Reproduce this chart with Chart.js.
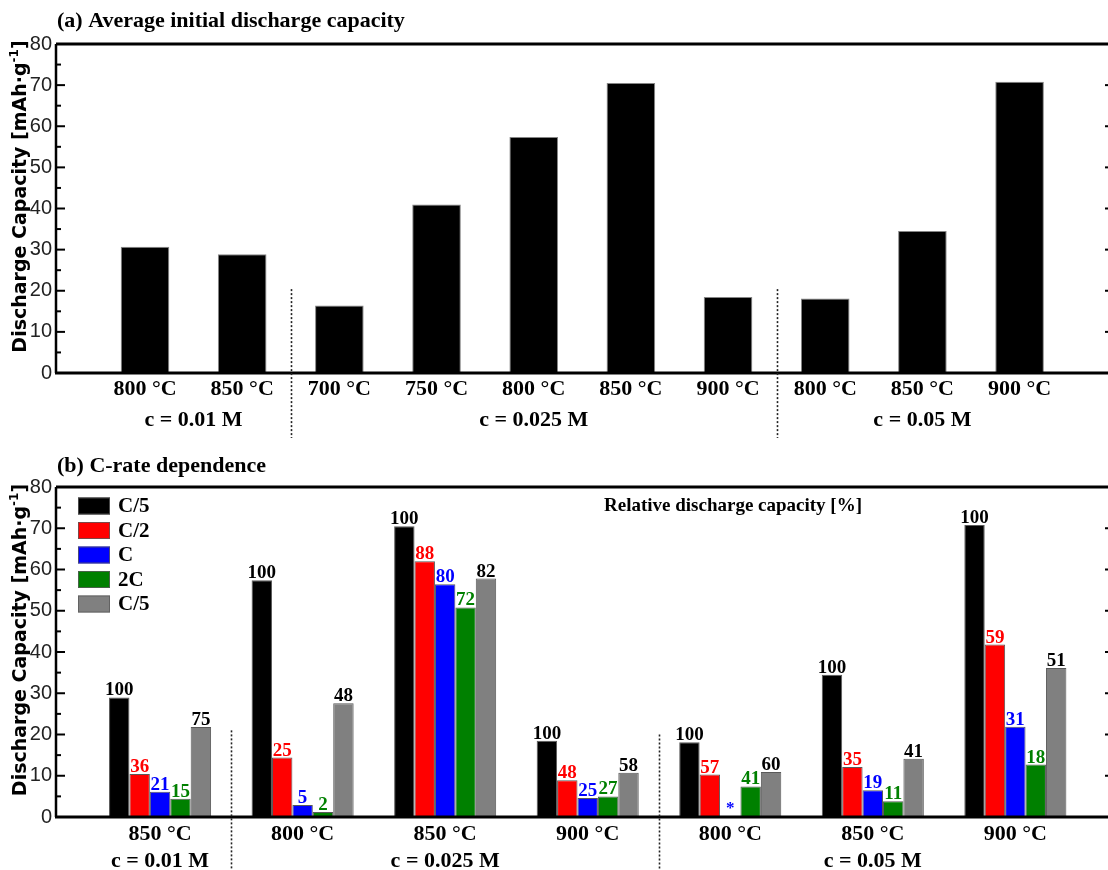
<!DOCTYPE html>
<html>
<head>
<meta charset="utf-8">
<script src="https://cdn.jsdelivr.net/npm/chart.js@4.4.0/dist/chart.umd.min.js"></script>
<style>
  html, body { margin: 0; padding: 0; background: #fff; width: 1108px; height: 870px; overflow: hidden; }
  canvas { position: absolute; left: 0; }
  #chartA { top: 0; }
  #chartB { top: 445px; }
</style>
</head>
<body>
<canvas id="chartA" width="1108" height="445"></canvas>
<canvas id="chartB" width="1108" height="425"></canvas>
<script>
// ---------- Panel (a): average initial discharge capacity ----------
const tempsA = ['800 °C', '850 °C', '700 °C', '750 °C', '800 °C', '850 °C', '900 °C', '800 °C', '850 °C', '900 °C'];
const capacityA = [30.7, 28.9, 16.4, 41.0, 57.4, 70.5, 18.5, 18.1, 34.5, 70.8];
const concLabels = ['c = 0.01 M', 'c = 0.025 M', 'c = 0.05 M'];
const concSpanA = [[1, 2], [3, 7], [8, 10]];
const separatorsA = [2.5, 7.5];

// ---------- Panel (b): C-rate dependence ----------
const tempsB = ['850 °C', '800 °C', '850 °C', '900 °C', '800 °C', '850 °C', '900 °C'];
const concSpanB = [[1, 1], [2, 4], [5, 7]];
const separatorsB = [1.5, 4.5];
const rateNames = ['C/5', 'C/2', 'C', '2C', 'C/5'];
const rateColors = ['#000000', '#ff0000', '#0000ff', '#008000', '#808080'];
const labelColors = ['#000000', '#ff0000', '#0000ff', '#008000', '#000000'];
const capC5 = [29.0, 57.4, 70.5, 18.5, 18.1, 34.5, 70.8];
const capC2 = [10.4, 14.4, 62.0, 8.9, 10.3, 12.1, 41.8];
const capC1 = [6.1, 2.9, 56.4, 4.6, null, 6.5, 21.9];
const cap2C = [4.4, 1.2, 50.8, 5.0, 7.4, 3.8, 12.7];
const capC5end = [21.8, 27.6, 57.8, 10.7, 10.9, 14.1, 36.1];
const relC5 = [100, 100, 100, 100, 100, 100, 100];
const relC2 = [36, 25, 88, 48, 57, 35, 59];
const relC1 = [21, 5, 80, 25, null, 19, 31];
const rel2C = [15, 2, 72, 27, 41, 11, 18];
const relC5end = [75, 48, 82, 58, 60, 41, 51];

const capacityB = [capC5, capC2, capC1, cap2C, capC5end];
const relativeB = [relC5, relC2, relC1, rel2C, relC5end];

const SERIF = '"Liberation Serif", "Times New Roman", serif';
const SANS = '"Liberation Sans", Arial, sans-serif';
const SANS_TITLE = '"DejaVu Sans", Verdana, sans-serif';

function line(ctx, x1, y1, x2, y2) {
  ctx.beginPath(); ctx.moveTo(x1, y1); ctx.lineTo(x2, y2); ctx.stroke();
}

// Rotated y-axis title with a raised "-1"
function drawYTitle(ctx, cx, cy) {
  const main = 'Discharge Capacity [mAh·g';
  const sup = '-1';
  const tail = ']';
  ctx.save();
  ctx.translate(cx, cy);
  ctx.rotate(-Math.PI / 2);
  ctx.fillStyle = '#000';
  ctx.textBaseline = 'middle';
  ctx.textAlign = 'left';
  const fMain = 'bold 19px ' + SANS_TITLE;
  const fSup = 'bold 12px ' + SANS_TITLE;
  ctx.font = fMain; const w1 = ctx.measureText(main).width; const w3 = ctx.measureText(tail).width;
  ctx.font = fSup; const w2 = ctx.measureText(sup).width;
  let x = -(w1 + w2 + w3) / 2;
  ctx.font = fMain; ctx.fillText(main, x, 0); x += w1;
  ctx.font = fSup; ctx.fillText(sup, x, -6); x += w2;
  ctx.font = fMain; ctx.fillText(tail, x, 0);
  ctx.restore();
}

// Frame, inward ticks, category labels, group labels and separators
function framePlugin(cfg) {
  return {
    id: 'frame' + cfg.name,
    afterDraw(chart) {
      const { ctx, chartArea: a, scales: { x, y } } = chart;
      ctx.save();
      ctx.strokeStyle = '#000';
      // axes and top border
      ctx.lineWidth = 3;
      line(ctx, a.left, a.top, a.right, a.top);
      line(ctx, a.left - 1, a.bottom, a.right, a.bottom);
      ctx.lineWidth = 2.5;
      line(ctx, a.left, a.top, a.left, a.bottom);
      // inward ticks on the value axis
      ctx.lineWidth = 2;
      for (let v = 5; v < 80; v += 5) {
        const py = y.getPixelForValue(v);
        line(ctx, a.left, py, a.left + (v % 10 === 0 ? 9 : 5), py);
      }
      // stubs of the right-hand axis ticks
      for (let v = 10; v < 80; v += 10) {
        const py = y.getPixelForValue(v);
        line(ctx, a.right - 3, py, a.right, py);
      }
      // dotted separators between concentration groups
      ctx.lineWidth = 1.6;
      ctx.strokeStyle = '#222';
      ctx.setLineDash([2, 2]);
      cfg.separators.forEach((s, i) => {
        const px = Math.round(x.getPixelForValue(s)) + 0.5;
        line(ctx, px, y.getPixelForValue(cfg.sepTop[i]), px, cfg.sepBottom);
      });
      ctx.setLineDash([]);
      // temperature labels
      ctx.fillStyle = '#000';
      ctx.textAlign = 'center';
      ctx.textBaseline = 'alphabetic';
      ctx.font = 'bold 22px ' + SERIF;
      cfg.temps.forEach((t, i) => {
        ctx.fillText(t, x.getPixelForValue(i + 1), a.bottom + cfg.tempOffset);
      });
      // concentration labels
      cfg.spans.forEach((sp, i) => {
        const cx = (x.getPixelForValue(sp[0]) + x.getPixelForValue(sp[1])) / 2;
        ctx.fillText(concLabels[i], cx, cfg.concBaseline);
      });
      // panel title
      ctx.textAlign = 'left';
      ctx.fillText(cfg.title, 57, a.top - cfg.titleGap);
      ctx.restore();
      drawYTitle(ctx, 21, (a.top + a.bottom) / 2 - 12);
    }
  };
}

// Relative capacity labels above each bar, legend and annotation for panel (b)
const labelPlugin = {
  id: 'relLabels',
  afterDatasetsDraw(chart) {
    const { ctx, scales: { x, y } } = chart;
    ctx.save();
    ctx.textAlign = 'center';
    ctx.textBaseline = 'alphabetic';
    chart.data.datasets.forEach((ds, di) => {
      const meta = chart.getDatasetMeta(di);
      meta.data.forEach((bar, j) => {
        const rel = relativeB[di][j];
        ctx.fillStyle = labelColors[di];
        if (rel === null) {
          // missing measurement marked with an asterisk
          const px = Number.isFinite(bar.x) ? bar.x : x.getPixelForValue(j + 1);
          ctx.font = 'bold 17px ' + SERIF;
          ctx.fillText('*', px, y.getPixelForValue(0) - 4);
          return;
        }
        ctx.font = 'bold 19px ' + SERIF;
        ctx.fillText(String(rel), bar.x, bar.y - 2);
      });
    });
    // legend
    const sx = 78, sw = 32, sh = 17, row0 = 61, step = 24.5;
    ctx.textAlign = 'left';
    ctx.textBaseline = 'middle';
    ctx.font = 'bold 21px ' + SERIF;
    rateNames.forEach((n, i) => {
      const cy = row0 + i * step;
      ctx.fillStyle = rateColors[i];
      ctx.fillRect(sx, cy - sh / 2, sw, sh);
      ctx.strokeStyle = 'rgba(90,90,90,0.8)';
      ctx.lineWidth = 1;
      ctx.strokeRect(sx + 0.5, cy - sh / 2 + 0.5, sw - 1, sh - 1);
      ctx.fillStyle = '#000';
      ctx.fillText(n, 118, cy + 1);
    });
    // annotation
    ctx.textAlign = 'center';
    ctx.textBaseline = 'alphabetic';
    ctx.font = 'bold 19px ' + SERIF;
    ctx.fillText('Relative discharge capacity [%]', 733, 66);
    ctx.restore();
  }
};

function yScale(width) {
  return {
    min: 0, max: 80,
    grid: { display: false, drawTicks: false },
    border: { display: false },
    ticks: { stepSize: 10, padding: 4, color: '#222', font: { family: SANS, size: 20 } },
    afterFit: s => { s.width = width; }
  };
}

// Linear category axis: one tick per category position, so bar widths follow the category spacing
function xScale(min, max, height, count) {
  return {
    type: 'linear', min, max,
    offset: false,
    grid: { display: false, offset: false },
    border: { display: false },
    ticks: { display: false },
    afterBuildTicks: s => { s.ticks = Array.from({ length: count }, (_, i) => ({ value: i + 1 })); },
    afterFit: s => { s.height = height; }
  };
}

const common = {
  responsive: false,
  animation: false,
  devicePixelRatio: 1,
  plugins: { legend: { display: false }, tooltip: { enabled: false } }
};

new Chart(document.getElementById('chartA'), {
  type: 'bar',
  data: {
    datasets: [{
      label: 'C/5',
      data: capacityA.map((v, i) => ({ x: i + 1, y: v })),
      backgroundColor: '#000',
      borderColor: 'rgba(120,120,120,0.9)',
      borderWidth: 1,
      categoryPercentage: 0.5,
      barPercentage: 1
    }]
  },
  options: Object.assign({}, common, {
    layout: { padding: { top: 44, left: 0, right: 0, bottom: 0 } },
    scales: { x: xScale(0.084, 10.91, 72, tempsA.length), y: yScale(56) }
  }),
  plugins: [framePlugin({
    name: 'A', temps: tempsA, spans: concSpanA, separators: separatorsA,
    sepTop: [20.4, 20.4], sepBottom: 438, tempOffset: 22, concBaseline: 426,
    title: '(a) Average initial discharge capacity', titleGap: 17
  })]
});

new Chart(document.getElementById('chartB'), {
  type: 'bar',
  data: {
    datasets: capacityB.map((vals, di) => ({
      label: rateNames[di],
      data: vals.map((v, i) => ({ x: i + 1, y: v })),
      backgroundColor: rateColors[di],
      borderColor: 'rgba(60,60,60,0.85)',
      borderWidth: 1,
      categoryPercentage: 0.716,
      barPercentage: 1
    }))
  },
  options: Object.assign({}, common, {
    layout: { padding: { top: 42, left: 0, right: 0, bottom: 0 } },
    scales: { x: xScale(0.27, 7.65, 53, tempsB.length), y: yScale(56) }
  }),
  plugins: [labelPlugin, framePlugin({
    name: 'B', temps: tempsB, spans: concSpanB, separators: separatorsB,
    sepTop: [21, 20], sepBottom: 425, tempOffset: 23, concBaseline: 422,
    title: '(b) C-rate dependence', titleGap: 15
  })]
});
</script>
</body>
</html>
